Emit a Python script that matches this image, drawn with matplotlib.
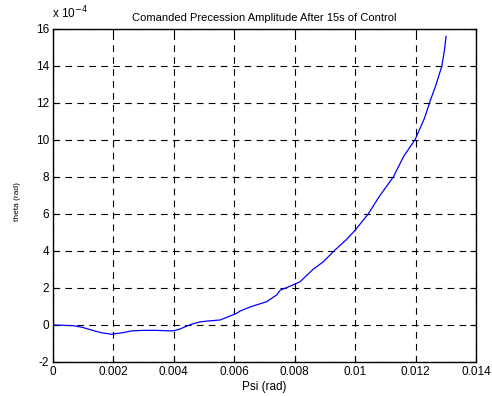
import numpy as np
import matplotlib
matplotlib.use('Agg')
import matplotlib.pyplot as plt
from matplotlib.ticker import FuncFormatter

# curve (y in units of 1e-4)
psi = [0.0, 0.0007, 0.0010, 0.00133, 0.0016, 0.00194, 0.0023, 0.0026,
       0.00300, 0.00343, 0.0037, 0.00398, 0.0042, 0.00443, 0.0046, 0.00487,
       0.0051, 0.00553, 0.0057, 0.00608, 0.0062, 0.00652, 0.0068, 0.00708,
       0.0072, 0.0074, 0.00752, 0.00785, 0.00818, 0.0086, 0.00895, 0.0093,
       0.0097, 0.0100, 0.01044, 0.0108, 0.01127, 0.0116, 0.01199, 0.0123,
       0.01248, 0.01268, 0.01287, 0.01295, 0.01301]
amp = [0.0, -0.04, -0.14, -0.30, -0.42, -0.50, -0.42, -0.32,
       -0.29, -0.29, -0.31, -0.32, -0.22, -0.06, 0.05, 0.17,
       0.21, 0.27, 0.38, 0.63, 0.76, 0.97, 1.12, 1.26,
       1.40, 1.62, 1.88, 2.10, 2.34, 3.00, 3.42, 4.00,
       4.60, 5.12, 6.02, 6.95, 8.02, 9.10, 10.04, 11.20,
       12.10, 13.00, 14.00, 14.80, 15.60]

xticks = [0, 0.002, 0.004, 0.006, 0.008, 0.01, 0.012, 0.014]
yticks = [-2, 0, 2, 4, 6, 8, 10, 12, 14, 16]

plt.rcParams['font.family'] = ['Liberation Sans', 'DejaVu Sans']
plt.rcParams['font.size'] = 8.5
plt.rcParams['lines.scale_dashes'] = False

fig = plt.figure(figsize=(4.92, 3.96), dpi=100)
ax = fig.add_axes([0.1077, 0.0859, 0.8598, 0.8409])

ax.plot(psi, amp, color='#0000ff', lw=0.9)

ax.set_xlim(0, 0.014)
ax.set_ylim(-2, 16)
ax.set_xticks(xticks)
ax.set_yticks(yticks)
ax.xaxis.set_major_formatter(FuncFormatter(lambda v, p: '%g' % round(v, 4)))
ax.yaxis.set_major_formatter(FuncFormatter(lambda v, p: '%g' % v))
ax.tick_params(direction='in', top=True, right=True, length=4, width=0.8, pad=3)
ax.grid(True, color='black', linestyle=(0, (4.8, 3.8)), lw=0.8)
for s in ax.spines.values():
    s.set_linewidth(1.0)

ax.set_title('Comanded Precession Amplitude After 15s of Control', fontsize=8, pad=6)
ax.set_xlabel('Psi (rad)', fontsize=8.5, labelpad=2)
fig.text(0.035, 0.49, 'theta (rad)', rotation=90, fontsize=6, ha='center', va='center')
fig.text(0.105, 0.945, 'x 10$^{-4}$', fontsize=8.5, ha='left', va='bottom')

fig.savefig('out.png', dpi=100)
